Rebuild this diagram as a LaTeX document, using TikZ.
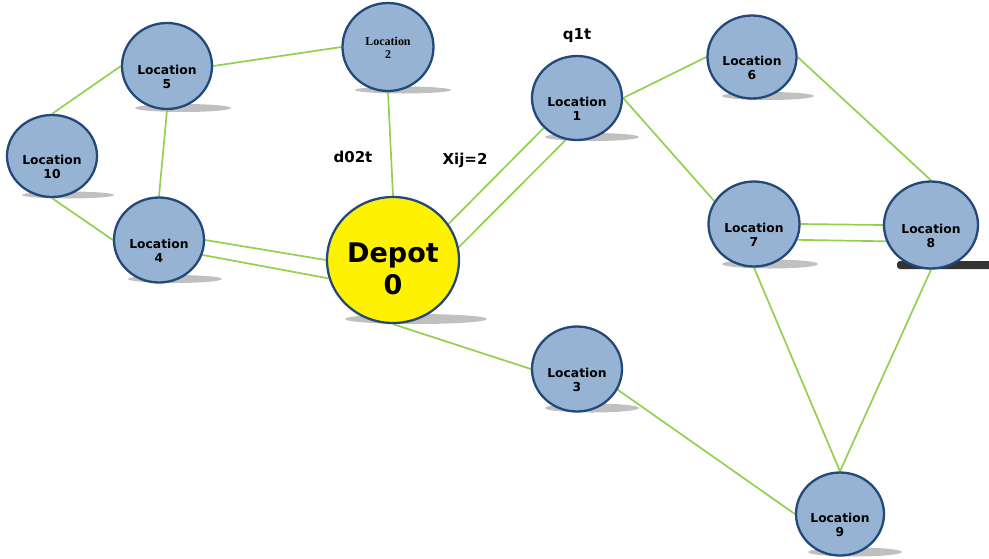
\documentclass[tikz,border=0pt]{standalone}
\usepackage{fontspec}
\newfontfamily\vfont{DejaVu Sans}
\newfontfamily\tfont{Liberation Serif}
\usetikzlibrary{shapes.geometric,backgrounds}
\definecolor{locfill}{RGB}{150,179,212}
\definecolor{locdraw}{RGB}{35,72,122}
\definecolor{edgegreen}{RGB}{146,208,80}
\definecolor{shadowgray}{RGB}{192,192,192}
\begin{document}
\begin{tikzpicture}[x=1pt,y=-1pt,
  loc/.style={ellipse,draw=locdraw,line width=2.3pt,fill=locfill,inner sep=0pt},
  loctext/.style={align=center,yshift=-11pt,inner sep=0pt,font=\vfont\bfseries\fontsize{12.3}{14}\selectfont},
  loctexttwo/.style={align=center,yshift=-1pt,inner sep=0pt,font=\tfont\bfseries\fontsize{12}{13}\selectfont},
  depottext/.style={align=center,yshift=-9pt,inner sep=0pt,font=\vfont\bfseries\fontsize{27}{32}\selectfont},
  lbl/.style={inner sep=0pt,font=\vfont\bfseries\fontsize{15}{17}\selectfont},
  edge/.style={draw=edgegreen,line width=1.7pt},
  shad/.style={fill=shadowgray}]
\useasboundingbox (0,0) rectangle (989,558);

% nodes
\node[loc,minimum width=90pt,minimum height=84pt,label={[loctext]center:{Location\\1}}] (n1) at (577,98) {};
\node[loc,minimum width=91pt,minimum height=88pt,label={[loctexttwo]center:{Location\\2}}] (n2) at (388,47) {};
\node[loc,minimum width=90pt,minimum height=85pt,label={[loctext]center:{Location\\3}}] (n3) at (577,369) {};
\node[loc,minimum width=90pt,minimum height=85pt,label={[loctext]center:{Location\\4}}] (n4) at (159,240) {};
\node[loc,minimum width=90pt,minimum height=86pt,label={[loctext]center:{Location\\5}}] (n5) at (167,66) {};
\node[loc,minimum width=89pt,minimum height=83pt,label={[loctext]center:{Location\\6}}] (n6) at (752,57) {};
\node[loc,minimum width=91pt,minimum height=85pt,label={[loctext]center:{Location\\7}}] (n7) at (754,224) {};
\node[loc,minimum width=94pt,minimum height=87pt,label={[loctext]center:{Location\\8}}] (n8) at (931,225) {};
\node[loc,minimum width=88pt,minimum height=83pt,label={[loctext]center:{Location\\9}}] (n9) at (840,514) {};
\node[loc,minimum width=90pt,minimum height=82pt,label={[loctext]center:{Location\\10}}] (n10) at (52,156) {};
\node[loc,fill=yellow,minimum width=132pt,minimum height=126pt,label={[depottext]center:{Depot\\0}}] (d0) at (393,260) {};

% labels
\node[lbl] (q) at (577,36) {q1t};
\node[lbl] (d) at (353,157) {d02t};
\node[lbl] (x) at (465,160) {Xij=2};

\begin{scope}[on background layer]
% shadows
\fill[shad] (183,108) ellipse [x radius=48pt, y radius=4pt];
\fill[shad] (68,195) ellipse [x radius=46pt, y radius=3.5pt];
\fill[shad] (175,279) ellipse [x radius=47pt, y radius=4pt];
\fill[shad] (403,90) ellipse [x radius=48pt, y radius=3.5pt];
\fill[shad] (416,319) ellipse [x radius=71pt, y radius=5pt];
\fill[shad] (592,137) ellipse [x radius=47pt, y radius=4pt];
\fill[shad] (768,96) ellipse [x radius=46pt, y radius=4pt];
\fill[shad] (770,264) ellipse [x radius=48pt, y radius=4.5pt];
\fill[shad] (592,408) ellipse [x radius=47pt, y radius=4.5pt];
\fill[shad] (855,552) ellipse [x radius=47pt, y radius=4.5pt];
\fill[black!80,rounded corners=3pt] (897,261) rectangle (995,269);
% edges
\draw[edge] (n5.west) -- (n10.north);
\draw[edge] (n5.east) -- (n2.west);
\draw[edge] (n5.south) -- (n4.north);
\draw[edge] (n10.south) -- (n4.west);
\draw[edge] (n4.east) -- (d0.west);
\draw[edge] (n4.-19) -- (d0.196);
\draw[edge] (n2.south) -- (d0.north);
\draw[edge] (d0.33) -- (n1.222);
\draw[edge] (d0.11) -- (n1.255);
\draw[edge] (n1.east) -- (n6.west);
\draw[edge] (n1.east) -- (n7.150);
\draw[edge] (n6.east) -- (n8.north);
\draw[edge] (n7.east) -- (n8.west);
\draw[edge] (n7.-20) -- (n8.200);
\draw[edge] (n7.south) -- (n9.north);
\draw[edge] (n8.south) -- (n9.north);
\draw[edge] (d0.south) -- (n3.west);
\draw[edge] (n3.-27) -- (n9.west);
\end{scope}
\end{tikzpicture}
\end{document}
